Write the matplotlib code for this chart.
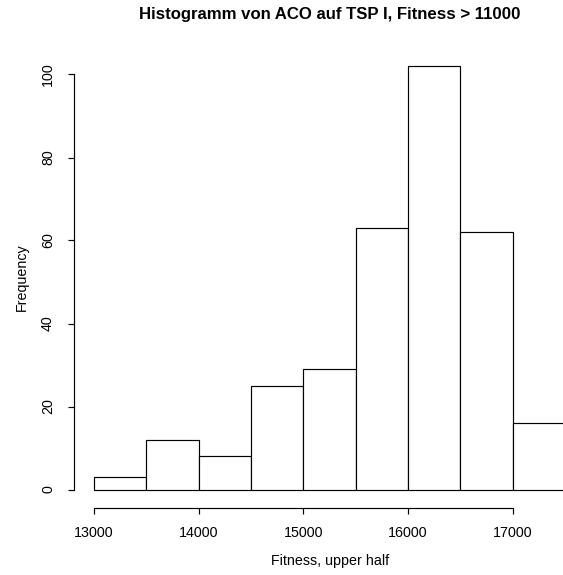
"""
Histogram of ACO fitness values on TSP I (upper half, fitness > 11000), drawn in base-R style.
"""
import numpy as np
import matplotlib
matplotlib.use('Agg')
import matplotlib.pyplot as plt

# bin edges and counts per bin
breaks = [13000, 13500, 14000, 14500, 15000, 15500, 16000, 16500, 17000, 17500]
counts = [3, 12, 8, 25, 29, 63, 102, 62, 16]
xticks = [13000, 14000, 15000, 16000, 17000]
yticks = [0, 20, 40, 60, 80, 100]

W, H = 563, 575
plt.rcParams['font.family'] = ['Liberation Sans', 'DejaVu Sans']

fig = plt.figure(figsize=(W / 100, H / 100), dpi=100)

# axes box in pixel coordinates (left, top, right, bottom)
left, top, right, bottom = 73.5, 48, 563, 508
ax = fig.add_axes([left / W, 1 - bottom / H, (right - left) / W, (bottom - top) / H])

px_per_x = (512.5 - 94) / 4000.0
x0 = 13000 - (94 - left) / px_per_x
ax.set_xlim(x0, x0 + (right - left) / px_per_x)

px_per_y = (489.5 - 74.5) / 100.0
y0 = -(bottom - 489.5) / px_per_y
ax.set_ylim(y0, y0 + (bottom - top) / px_per_y)

lw = 0.85
edges = np.array(breaks)
ax.bar(edges[:-1], counts, width=np.diff(edges), align='edge',
       facecolor='white', edgecolor='black', linewidth=lw)

for side in ['top', 'right']:
    ax.spines[side].set_visible(False)
ax.spines['left'].set_bounds(0, 100)
ax.spines['bottom'].set_bounds(13000, 17000)
for side in ['left', 'bottom']:
    ax.spines[side].set_linewidth(lw)

ax.set_xticks(xticks)
ax.set_yticks(yticks)
ax.set_xticklabels([str(v) for v in xticks], fontsize=10.3)
ax.set_yticklabels([str(v) for v in yticks], fontsize=10.3, rotation=90, va='center')
ax.tick_params(axis='both', direction='out', length=4.3, width=lw, pad=9)

fig.text(330 / W, 1 - 15 / H, "Histogramm von ACO auf TSP I, Fitness > 11000",
         ha='center', va='center', fontsize=12.1, fontweight='bold')
fig.text(330 / W, 1 - 561 / H, "Fitness, upper half", ha='center', va='center', fontsize=10.3)
fig.text(22 / W, 1 - 277 / H, "Frequency", ha='center', va='center', rotation=90, fontsize=10.3)

plt.savefig("out.png", dpi=100)
